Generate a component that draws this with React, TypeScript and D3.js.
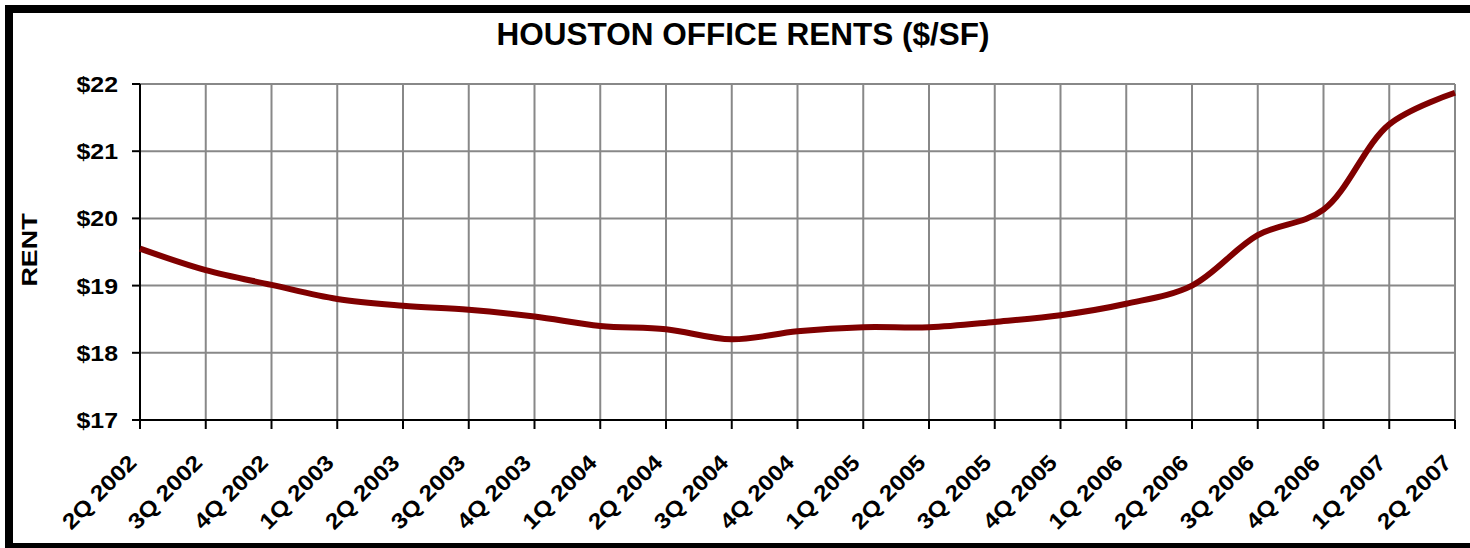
import React from "react";
import * as d3 from "d3";

const quarters = [
  "2Q 2002", "3Q 2002", "4Q 2002", "1Q 2003", "2Q 2003", "3Q 2003", "4Q 2003",
  "1Q 2004", "2Q 2004", "3Q 2004", "4Q 2004", "1Q 2005", "2Q 2005", "3Q 2005",
  "4Q 2005", "1Q 2006", "2Q 2006", "3Q 2006", "4Q 2006", "1Q 2007", "2Q 2007",
];
const rents = [
  19.55, 19.23, 19.01, 18.8, 18.7, 18.64, 18.54,
  18.4, 18.35, 18.2, 18.32, 18.38, 18.38, 18.46,
  18.56, 18.73, 19.0, 19.75, 20.13, 21.4, 21.87,
];
const yTicks = [17, 18, 19, 20, 21, 22];

const W = 1470;
const H = 548;
const margin = { top: 84, right: 15, bottom: 128, left: 140 };
const FONT = "'Liberation Sans', Arial, Helvetica, sans-serif";

export default function App() {
  const innerW = W - margin.left - margin.right;
  const innerH = H - margin.top - margin.bottom;

  const x = d3.scalePoint<string>().domain(quarters).range([0, innerW]).padding(0);
  const y = d3.scaleLinear().domain([17, 22]).range([innerH, 0]);

  const line = d3
    .line<number>()
    .x((_d, i) => x(quarters[i]) as number)
    .y((d) => y(d))
    .curve(d3.curveCatmullRom.alpha(0.5));

  return (
    <div style={{ position: "fixed", left: 0, top: 0 }}>
      <svg width={W} height={H} style={{ display: "block", background: "#fff" }}>
        <rect x={9} y={9} width={W + 20} height={H - 10} fill="none" stroke="#000" strokeWidth={8} />
        <text x={743} y={45} textAnchor="middle" fontFamily={FONT} fontWeight="bold" fontSize={31.5}>
          HOUSTON OFFICE RENTS ($/SF)
        </text>
        <g transform="translate(37,250) rotate(-90) scale(1.25,1)">
          <text textAnchor="middle" fontFamily={FONT} fontWeight="bold" fontSize={21.5}>
            RENT
          </text>
        </g>
        <g transform={`translate(${margin.left},${margin.top})`}>
          {/* grid */}
          {yTicks.map((t) => (
            <line key={"gy" + t} x1={0} x2={innerW} y1={y(t)} y2={y(t)} stroke="#888" strokeWidth={2} />
          ))}
          {quarters.map((q) => (
            <line key={"gx" + q} x1={x(q)} x2={x(q)} y1={0} y2={innerH} stroke="#888" strokeWidth={2} />
          ))}
          {/* axes */}
          <line x1={0} x2={0} y1={0} y2={innerH} stroke="#000" strokeWidth={2} />
          <line x1={0} x2={innerW} y1={innerH} y2={innerH} stroke="#000" strokeWidth={2} />
          {yTicks.map((t) => (
            <g key={"yt" + t} transform={`translate(0,${y(t)})`}>
              <line x1={-8} x2={0} stroke="#000" strokeWidth={2} />
              <g transform="translate(-22,0) scale(1.13,1)">
                <text dy="0.36em" textAnchor="end" fontFamily={FONT} fontWeight="bold" fontSize={22}>
                  {"$" + t}
                </text>
              </g>
            </g>
          ))}
          {quarters.map((q) => (
            <g key={"xt" + q} transform={`translate(${x(q)},${innerH})`}>
              <line y1={0} y2={9} stroke="#000" strokeWidth={2} />
              <g transform="translate(-2,44) rotate(-45) scale(1.12,1)">
                <text textAnchor="end" fontFamily={FONT} fontWeight="bold" fontSize={22}>
                  {q}
                </text>
              </g>
            </g>
          ))}
          <path d={line(rents) || ""} fill="none" stroke="#800000" strokeWidth={6} strokeLinejoin="round" />
        </g>
      </svg>
    </div>
  );
}
